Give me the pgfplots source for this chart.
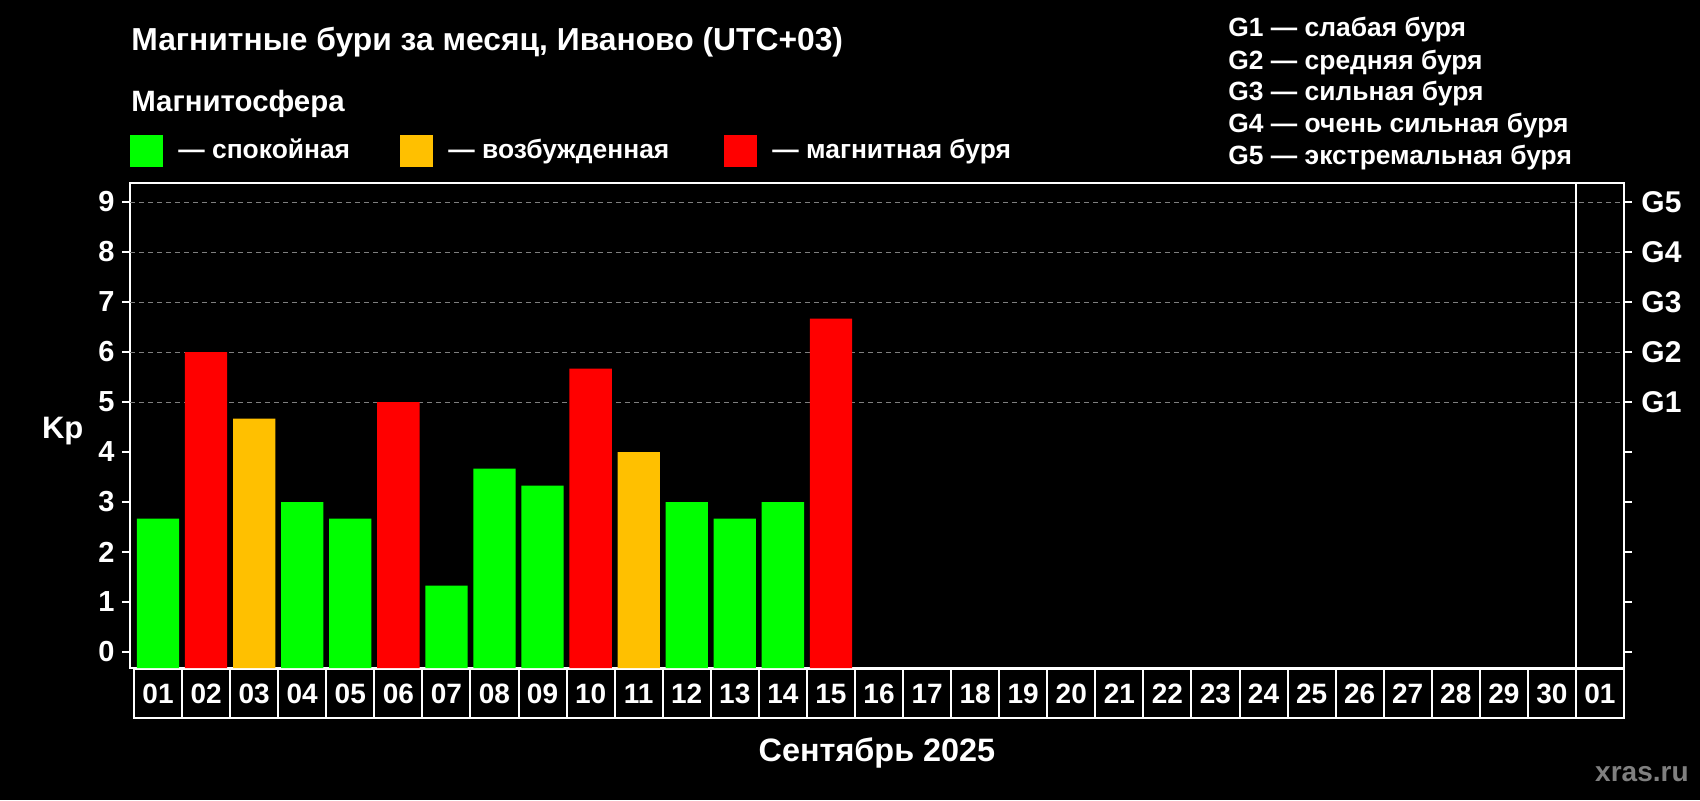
\documentclass[border=0pt]{standalone}
\usepackage{fontspec}
\setmainfont{Liberation Sans}
\usepackage{pgfplots}
\pgfplotsset{compat=1.18}

\definecolor{calm}{HTML}{00FF00}
\definecolor{active}{HTML}{FFC000}
\definecolor{storm}{HTML}{FF0000}
\definecolor{gridgray}{HTML}{7F7F7F}
\definecolor{wmark}{HTML}{808080}

% bold text at a size given in pt
\newcommand{\fs}[1]{\fontsize{#1}{#1}\selectfont\bfseries}

% shared frame of both axes (canvas is 1700x800 px, 1 px = 0.5pt)
\pgfplotsset{
  kpframe/.style={
    scale only axis, width=747pt, height=242.5pt,
    at={(65pt,66pt)}, anchor=south west,
    xmin=0.417, xmax=31.5, ymin=0, ymax=9.70,
    tick align=outside, major tick length=4pt,
    axis line style={white, line width=1pt},
    tick style={white, line width=1pt},
    ytick={0.32,1.32,2.32,3.32,4.32,5.32,6.32,7.32,8.32,9.32},
  },
}

\begin{document}
\begin{tikzpicture}
\fill[black] (0,0) rectangle (850pt,400pt);

\begin{axis}[kpframe,
  clip=false,
  % bars stand on the lower edge of the frame, Kp 0 sits 0.32 above it
  y filter/.expression={y+0.32},
  yticklabels={0,1,2,3,4,5,6,7,8,9},
  ytick pos=left,
  yticklabel style={font=\fs{14.5}, text=white, inner sep=3.5pt},
  extra y ticks={5.32,6.32,7.32,8.32,9.32},
  extra y tick style={grid=major, yticklabel={}},
  major grid style={gridgray, line width=0.5pt, dash pattern=on 2.5pt off 2pt},
  xtick={1,...,31},
  xticklabels={01,02,03,04,05,06,07,08,09,10,11,12,13,14,15,16,17,18,19,20,21,22,23,24,25,26,27,28,29,30,01},
  xtick pos=bottom,
  xtick style={draw=none},
  xticklabel style={font=\fs{14}, text=white, draw=white, line width=1pt,
    minimum width=24.03pt, minimum height=24.5pt, inner sep=0pt, anchor=north,
    yshift=4pt},
  xlabel={Сентябрь 2025},
  ylabel={Kp},
  every axis x label/.style={at={(axis description cs:0.5,-0.176)}, anchor=center,
    font=\fs{16.2}, text=white},
  every axis y label/.style={at={(axis description cs:-0.045,0.488)}, anchor=center,
    font=\fs{15.5}, text=white},
]
% спокойная
\addplot[ybar, bar width=0.88, bar shift=0pt, fill=calm, draw=none] coordinates {
  (1,2.67) (4,3) (5,2.67) (7,1.33) (8,3.67) (9,3.33) (12,3) (13,2.67) (14,3)
};
% возбужденная
\addplot[ybar, bar width=0.88, bar shift=0pt, fill=active, draw=none] coordinates {
  (3,4.67) (11,4)
};
% магнитная буря
\addplot[ybar, bar width=0.88, bar shift=0pt, fill=storm, draw=none] coordinates {
  (2,6) (6,5) (10,5.67) (15,6.67)
};
\draw[white, line width=1pt] (axis cs:30.5,0) -- (axis cs:30.5,9.70);
\end{axis}

% right-hand storm scale
\begin{axis}[kpframe,
  hide x axis,
  axis y line*=right,
  yticklabels={,,,,,G1,G2,G3,G4,G5},
  yticklabel style={font=\fs{15}, text=white, inner sep=4.5pt},
]
\addplot[draw=none] coordinates {(1,0)};
\end{axis}

% title, legends and mark, positioned in px from the top left
\begin{scope}[x=0.5pt, y=-0.5pt, shift={(0pt,400pt)}]
  \node[anchor=base west, inner sep=0pt, text=white, font=\fs{15.9}] at (131,51)
    {Магнитные бури за месяц, Иваново (UTC+03)};
  \node[anchor=base west, inner sep=0pt, text=white, font=\fs{14.7}] at (131,111)
    {Магнитосфера};
  \fill[calm] (130,135) rectangle (163,167);
  \fill[active] (400,135) rectangle (433,167);
  \fill[storm] (724,135) rectangle (757,167);
  \node[anchor=base west, inner sep=0pt, text=white, font=\fs{13.2}] at (178,158) {— спокойная};
  \node[anchor=base west, inner sep=0pt, text=white, font=\fs{13.2}] at (448,158) {— возбужденная};
  \node[anchor=base west, inner sep=0pt, text=white, font=\fs{13.2}] at (772,158) {— магнитная буря};
  \node[anchor=base west, inner sep=0pt, text=white, font=\fs{13.2}] at (1228,37) {G1 — слабая буря};
  \node[anchor=base west, inner sep=0pt, text=white, font=\fs{13.2}] at (1228,69) {G2 — средняя буря};
  \node[anchor=base west, inner sep=0pt, text=white, font=\fs{13.2}] at (1228,100) {G3 — сильная буря};
  \node[anchor=base west, inner sep=0pt, text=white, font=\fs{13.2}] at (1228,132) {G4 — очень сильная буря};
  \node[anchor=base west, inner sep=0pt, text=white, font=\fs{13.2}] at (1228,164) {G5 — экстремальная буря};
  \node[anchor=base east, inner sep=0pt, text=wmark, font=\fs{14}] at (1689,781) {xras.ru};
\end{scope}
\end{tikzpicture}
\end{document}
